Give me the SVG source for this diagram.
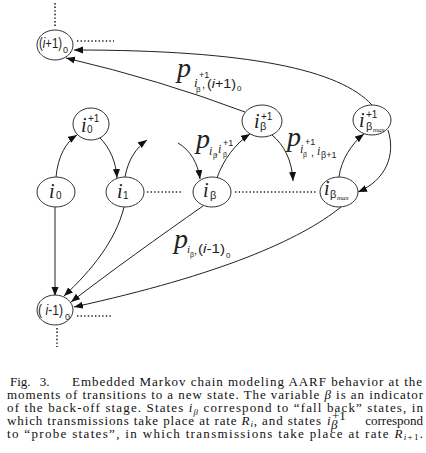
<svg xmlns="http://www.w3.org/2000/svg" width="426" height="453" viewBox="0 0 426 453">
<style>
.n{fill:#fff;stroke:#333;stroke-width:1}
.e{fill:none;stroke:#222;stroke-width:1}
.d{fill:none;stroke:#222;stroke-width:1.6;stroke-dasharray:1.4 2.2}
.si{font-family:"Liberation Serif",serif;font-style:italic;fill:#222}
.ss{font-family:"Liberation Sans",Arial,sans-serif;fill:#222}
.cap{font-family:"Liberation Serif","Times New Roman",serif;font-size:13px;fill:#111}
.it{font-style:italic}
</style>
<defs>
<marker id="ah" markerUnits="userSpaceOnUse" markerWidth="10" markerHeight="8" refX="9" refY="3.5" orient="auto">
<path d="M0,0 L9,3.5 L0,7 z" fill="#111"/>
</marker>
</defs>

<g id="dots">
<path class="d" d="M55,3 V27"/>
<path class="d" d="M77,41 H114"/>
<path class="d" d="M147,192 H183"/>
<path class="d" d="M235,192 H316"/>
<path class="d" d="M77,316 H113"/>
<path class="d" d="M57,328 V347"/>
</g>

<g id="connectors">
<path class="e" marker-end="url(#ah)" d="M56,177 C58,156 66,142 77,135"/>
<path class="e" marker-end="url(#ah)" d="M100,138 C110,148 116,162 117,178"/>
<path class="e" marker-end="url(#ah)" d="M125,177 C128,160 136,148 147,140"/>
<path class="e" marker-end="url(#ah)" d="M178,143 C190,150 198,163 200,179"/>
<path class="e" marker-end="url(#ah)" d="M217,178 C223,160 236,143 250,134"/>
<path class="e" marker-end="url(#ah)" d="M272,135 C284,145 292,160 293,181"/>
<path class="e" marker-end="url(#ah)" d="M339,177 C341,160 352,143 364,134"/>
<path class="e" marker-end="url(#ah)" d="M388,130 C396,155 386,180 358,192"/>
<path class="e" marker-end="url(#ah)" d="M372,105 C340,70 250,50 74,50"/>
<path class="e" marker-end="url(#ah)" d="M245,112 Q160,80 66,58"/>
<path class="e" marker-end="url(#ah)" d="M55,207 L55,296"/>
<path class="e" marker-end="url(#ah)" d="M124,207 C116,240 92,270 64,296"/>
<path class="e" marker-end="url(#ah)" d="M203,206 C160,236 110,272 71,302"/>
<path class="e" marker-end="url(#ah)" d="M341,207 C300,240 220,275 74,307"/>
</g>

<g id="n_ip1">
<ellipse class="n" cx="55" cy="45" rx="18" ry="15"/>
<text class="ss" x="39" y="48" font-size="14" textLength="23" lengthAdjust="spacingAndGlyphs">(<tspan class="it">i</tspan>+1)</text>
<text class="ss" x="63" y="53" font-size="9">0</text>
</g>
<g id="n_i0p">
<ellipse class="n" cx="91" cy="124" rx="18" ry="16"/>
<text class="si" x="81" y="132" font-size="20">i</text>
<text class="ss" x="88" y="122" font-size="10">+1</text>
<text class="ss" x="87" y="133" font-size="10">0</text>
</g>
<g id="n_ibp">
<ellipse class="n" cx="262" cy="121" rx="20" ry="16"/>
<text class="si" x="254" y="128" font-size="20">i</text>
<text class="ss" x="261" y="120" font-size="10">+1</text>
<text class="ss" x="260" y="130" font-size="11">β</text>
</g>
<g id="n_ibmp">
<ellipse class="n" cx="372" cy="120" rx="19" ry="15"/>
<text class="si" x="359" y="127" font-size="20">i</text>
<text class="ss" x="366" y="118" font-size="10">+1</text>
<text class="ss" x="366" y="130" font-size="11">β</text>
<text class="si" x="373" y="132" font-size="7">max</text>
</g>
<g id="n_i0">
<ellipse class="n" cx="56" cy="192" rx="19" ry="15"/>
<text class="si" x="49" y="198" font-size="20">i</text>
<text class="ss" x="56" y="199" font-size="10">0</text>
</g>
<g id="n_i1">
<ellipse class="n" cx="125" cy="192" rx="19" ry="15"/>
<text class="si" x="117" y="198" font-size="20">i</text>
<text class="ss" x="123" y="199" font-size="10">1</text>
</g>
<g id="n_ib">
<ellipse class="n" cx="212" cy="192" rx="19" ry="15"/>
<text class="si" x="203" y="197" font-size="20">i</text>
<text class="ss" x="210" y="199" font-size="11">β</text>
</g>
<g id="n_ibm">
<ellipse class="n" cx="339" cy="192" rx="19" ry="15"/>
<text class="si" x="324" y="195" font-size="20">i</text>
<text class="ss" x="330" y="198" font-size="11">β</text>
<text class="si" x="337" y="200" font-size="7">max</text>
</g>
<g id="n_im1">
<ellipse class="n" cx="55" cy="310" rx="18" ry="15"/>
<text class="ss" x="38" y="315" font-size="14" textLength="25" lengthAdjust="spacingAndGlyphs">( <tspan class="it">i</tspan>-1)</text>
<text class="ss" x="65" y="320" font-size="9">0</text>
</g>

<g id="labels">
<text class="si" x="177" y="77" font-size="28">p</text>
<text class="si" x="194" y="87" font-size="13">i</text>
<text class="ss" x="199" y="78" font-size="9">+1</text>
<text class="ss" x="196" y="92" font-size="8">β</text>
<text class="ss" x="202" y="88" font-size="11">,</text>
<text class="ss" x="207" y="88" font-size="12" textLength="29" lengthAdjust="spacingAndGlyphs">(<tspan class="it">i</tspan>+1)</text>
<text class="ss" x="237" y="91" font-size="8">0</text>

<text class="si" x="196" y="148" font-size="28">p</text>
<text class="si" x="209" y="155" font-size="12">i</text>
<text class="ss" x="213" y="158" font-size="7">β</text>
<text class="ss" x="215" y="155" font-size="11">,</text>
<text class="si" x="218" y="153" font-size="12">i</text>
<text class="ss" x="223" y="146" font-size="9">+1</text>
<text class="ss" x="223" y="157" font-size="7">β</text>

<text class="si" x="287" y="146" font-size="28">p</text>
<text class="si" x="300" y="153" font-size="12">i</text>
<text class="ss" x="305" y="145" font-size="9">+1</text>
<text class="ss" x="303" y="157" font-size="7">β</text>
<text class="ss" x="311" y="156" font-size="11">,</text>
<text class="si" x="317" y="155" font-size="12">i</text>
<text class="ss" x="321" y="158" font-size="9">β+1</text>

<text class="si" x="174" y="248" font-size="28">p</text>
<text class="si" x="187" y="253" font-size="11">i</text>
<text class="ss" x="190" y="257" font-size="7">β</text>
<text class="ss" x="194" y="254" font-size="11">,</text>
<text class="ss" x="198" y="253" font-size="12" textLength="27" lengthAdjust="spacingAndGlyphs">(<tspan class="it">i</tspan>-1)</text>
<text class="ss" x="226" y="258" font-size="8">0</text>
</g>

<g id="caption">
<text class="cap" x="10" y="386" word-spacing="6">Fig. 3.</text>
<text class="cap" x="72" y="386" textLength="350" lengthAdjust="spacing">Embedded Markov chain modeling AARF behavior at the</text>
<text class="cap" x="7" y="399" textLength="416" lengthAdjust="spacing">moments of transitions to a new state. The variable <tspan class="it">β</tspan> is an indicator</text>
<text class="cap" x="7" y="412" textLength="416" lengthAdjust="spacing">of the back-off stage. States <tspan class="it">i</tspan><tspan class="it" font-size="9" dy="3">β</tspan><tspan dy="-3"> correspond to “fall back” states, in</tspan></text>
<text class="cap" x="7" y="425" textLength="314" lengthAdjust="spacing">which transmissions take place at rate <tspan class="it">R</tspan><tspan class="it" font-size="9" dy="2">i</tspan><tspan dy="-2">, and states</tspan></text>
<text class="cap it" x="327" y="425">i</text>
<text class="cap" x="332" y="420" font-size="9">+1</text>
<text class="cap it" x="331" y="429" font-size="9">β</text>
<text class="cap" x="423" y="425" text-anchor="end">correspond</text>
<text class="cap" x="7" y="438" textLength="416" lengthAdjust="spacing">to “probe states”, in which transmissions take place at rate <tspan class="it">R</tspan><tspan font-size="9" dy="2"><tspan class="it">i</tspan>+1</tspan><tspan dy="-2">.</tspan></text>
</g>
</svg>
